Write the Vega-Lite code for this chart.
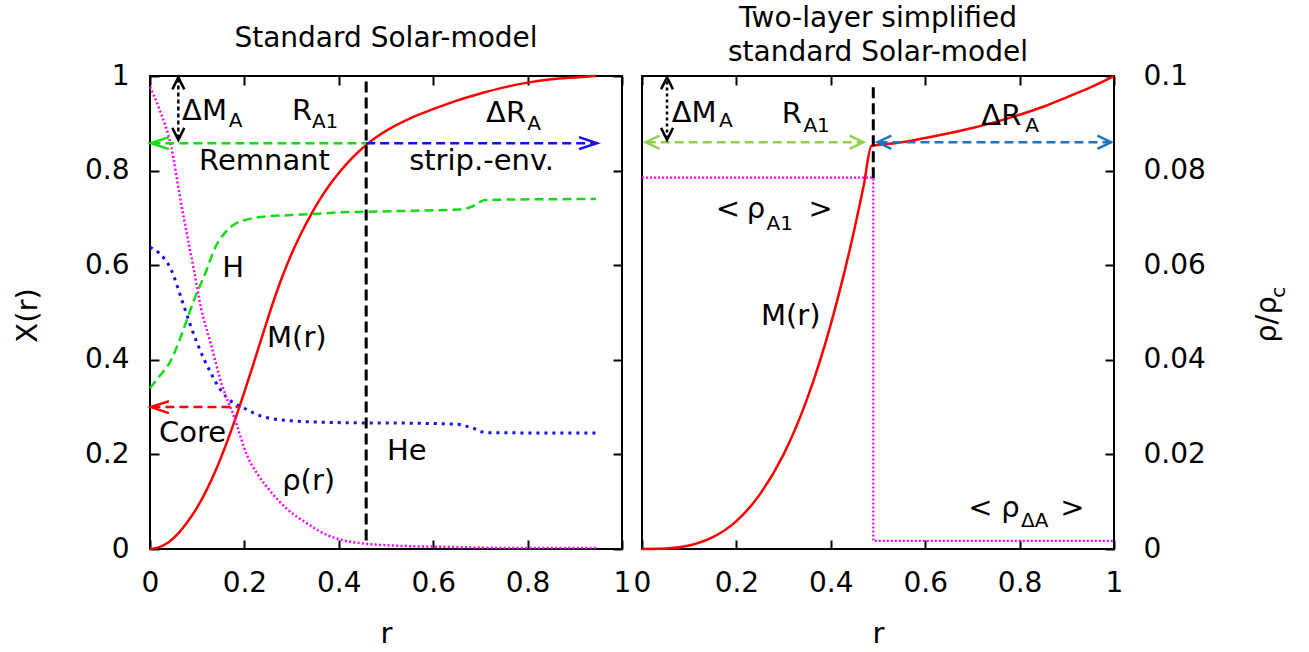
{
  "$schema": "https://vega.github.io/schema/vega-lite/v6.json",
  "padding": {"left": 12, "top": 4, "right": 5, "bottom": 5},
  "background": "white",
  "spacing": 20,
  "bounds": "flush",
  "datasets": {
    "mL": [
      {"r": 0, "v": 0}, {"r": 0.02, "v": 0.004}, {"r": 0.04, "v": 0.015}, {"r": 0.06, "v": 0.033},
      {"r": 0.08, "v": 0.058}, {"r": 0.1, "v": 0.088}, {"r": 0.12, "v": 0.125}, {"r": 0.14, "v": 0.168},
      {"r": 0.16, "v": 0.218}, {"r": 0.18, "v": 0.273}, {"r": 0.2, "v": 0.332}, {"r": 0.22, "v": 0.394},
      {"r": 0.24, "v": 0.457}, {"r": 0.26, "v": 0.519}, {"r": 0.28, "v": 0.575}, {"r": 0.3, "v": 0.624},
      {"r": 0.32, "v": 0.667}, {"r": 0.34, "v": 0.705}, {"r": 0.36, "v": 0.739}, {"r": 0.38, "v": 0.769},
      {"r": 0.4, "v": 0.795}, {"r": 0.42, "v": 0.818}, {"r": 0.44, "v": 0.838}, {"r": 0.46, "v": 0.856},
      {"r": 0.48, "v": 0.871}, {"r": 0.5, "v": 0.884}, {"r": 0.55, "v": 0.91}, {"r": 0.6, "v": 0.93},
      {"r": 0.65, "v": 0.948}, {"r": 0.7, "v": 0.963}, {"r": 0.75, "v": 0.976}, {"r": 0.8, "v": 0.986},
      {"r": 0.85, "v": 0.993}, {"r": 0.9, "v": 0.997}, {"r": 0.945, "v": 1.0}
    ],
    "hL": [
      {"r": 0, "v": 0.34}, {"r": 0.02, "v": 0.365}, {"r": 0.045, "v": 0.4}, {"r": 0.06, "v": 0.435},
      {"r": 0.078, "v": 0.484}, {"r": 0.093, "v": 0.526}, {"r": 0.114, "v": 0.575}, {"r": 0.142, "v": 0.645},
      {"r": 0.16, "v": 0.67}, {"r": 0.178, "v": 0.686}, {"r": 0.2, "v": 0.695}, {"r": 0.235, "v": 0.702},
      {"r": 0.3, "v": 0.706}, {"r": 0.341, "v": 0.708}, {"r": 0.411, "v": 0.712}, {"r": 0.458, "v": 0.713},
      {"r": 0.55, "v": 0.715}, {"r": 0.655, "v": 0.718}, {"r": 0.68, "v": 0.723}, {"r": 0.711, "v": 0.738},
      {"r": 0.945, "v": 0.74}
    ],
    "heL": [
      {"r": 0, "v": 0.638}, {"r": 0.02, "v": 0.625}, {"r": 0.045, "v": 0.59}, {"r": 0.068, "v": 0.525},
      {"r": 0.085, "v": 0.475}, {"r": 0.1, "v": 0.435}, {"r": 0.115, "v": 0.4}, {"r": 0.129, "v": 0.372},
      {"r": 0.145, "v": 0.343}, {"r": 0.163, "v": 0.32}, {"r": 0.18, "v": 0.307}, {"r": 0.199, "v": 0.298},
      {"r": 0.235, "v": 0.281}, {"r": 0.299, "v": 0.271}, {"r": 0.411, "v": 0.267}, {"r": 0.55, "v": 0.266},
      {"r": 0.648, "v": 0.264}, {"r": 0.683, "v": 0.256}, {"r": 0.711, "v": 0.246}, {"r": 0.945, "v": 0.245}
    ],
    "rhoL": [
      {"r": 0, "v": 0.977}, {"r": 0.02, "v": 0.93}, {"r": 0.045, "v": 0.85}, {"r": 0.066, "v": 0.73},
      {"r": 0.093, "v": 0.59}, {"r": 0.108, "v": 0.51}, {"r": 0.128, "v": 0.437}, {"r": 0.153, "v": 0.345},
      {"r": 0.178, "v": 0.28}, {"r": 0.206, "v": 0.197}, {"r": 0.23, "v": 0.155}, {"r": 0.256, "v": 0.121},
      {"r": 0.29, "v": 0.085}, {"r": 0.333, "v": 0.054}, {"r": 0.37, "v": 0.032}, {"r": 0.411, "v": 0.018},
      {"r": 0.458, "v": 0.011}, {"r": 0.52, "v": 0.007}, {"r": 0.6, "v": 0.005}, {"r": 0.7, "v": 0.003},
      {"r": 0.8, "v": 0.002}, {"r": 0.945, "v": 0.002}
    ],
    "mR": [
      {"r": 0, "v": 0}, {"r": 0.05, "v": 0.0009}, {"r": 0.1, "v": 0.0074}, {"r": 0.15, "v": 0.025},
      {"r": 0.2, "v": 0.059}, {"r": 0.25, "v": 0.116}, {"r": 0.3, "v": 0.2}, {"r": 0.35, "v": 0.318},
      {"r": 0.4, "v": 0.475}, {"r": 0.425, "v": 0.57}, {"r": 0.45, "v": 0.676}, {"r": 0.47, "v": 0.77},
      {"r": 0.486, "v": 0.852}, {"r": 0.5, "v": 0.854}, {"r": 0.55, "v": 0.86}, {"r": 0.6, "v": 0.869},
      {"r": 0.65, "v": 0.879}, {"r": 0.7, "v": 0.89}, {"r": 0.75, "v": 0.903}, {"r": 0.8, "v": 0.918},
      {"r": 0.85, "v": 0.935}, {"r": 0.9, "v": 0.955}, {"r": 0.95, "v": 0.976}, {"r": 1.0, "v": 1.0}
    ],
    "rhoR": [
      {"r": 0, "p": 0.0785}, {"r": 0.49, "p": 0.0017}, {"r": 1.0, "p": 0.0017}
    ]
  },
  "hconcat": [
    {
      "width": 472,
      "height": 473,
      "title": {"text": "Standard Solar-model", "offset": -19, "baseline": "bottom", "anchor": "middle", "frame": "group"},
      "layer": [
        {
          "data": {"name": "mL"},
          "mark": {"type": "line", "color": "#ff0000", "strokeWidth": 2.5, "interpolate": "monotone"},
          "encoding": {
            "x": {"field": "r", "type": "quantitative", "scale": {"domain": [0, 1], "nice": false, "zero": false},
                  "axis": {"orient": "bottom", "title": "r", "values": [0, 0.2, 0.4, 0.6, 0.8, 1], "format": "~g", "labelPadding": 29,
                           "titleX": 236, "titleY": 93, "titleBaseline": "alphabetic", "titleAlign": "center"}},
            "y": {"field": "v", "type": "quantitative", "scale": {"domain": [0, 1], "nice": false, "zero": false},
                  "axis": {"orient": "left", "title": "X(r)", "values": [0, 0.2, 0.4, 0.6, 0.8, 1], "format": "~g", "labelPadding": 30,
                           "titleX": -114, "titleY": 239, "titleBaseline": "alphabetic", "titleAlign": "center", "titleAngle": 270}}
          }
        },
        {
          "data": {"name": "hL"},
          "mark": {"type": "line", "color": "#11dd11", "strokeWidth": 2.5, "strokeDash": [9, 5], "interpolate": "monotone"},
          "encoding": {
            "x": {"field": "r", "type": "quantitative", "scale": {"domain": [0, 1], "nice": false, "zero": false},
                  "axis": {"orient": "top", "labels": false, "title": null, "values": [0, 0.2, 0.4, 0.6, 0.8, 1]}},
            "y": {"field": "v", "type": "quantitative", "scale": {"domain": [0, 1], "nice": false, "zero": false},
                  "axis": {"orient": "right", "labels": false, "title": null, "values": [0, 0.2, 0.4, 0.6, 0.8, 1]}}
          }
        },
        {
          "data": {"name": "heL"},
          "mark": {"type": "line", "color": "#1010f0", "strokeWidth": 3, "strokeDash": [3, 5], "interpolate": "monotone"},
          "encoding": {
            "x": {"field": "r", "type": "quantitative", "scale": {"domain": [0, 1], "nice": false, "zero": false}, "axis": null},
            "y": {"field": "v", "type": "quantitative", "scale": {"domain": [0, 1], "nice": false, "zero": false}, "axis": null}
          }
        },
        {
          "data": {"name": "rhoL"},
          "mark": {"type": "line", "color": "#ff00ff", "strokeWidth": 2.5, "strokeDash": [2, 2.3], "interpolate": "monotone"},
          "encoding": {
            "x": {"field": "r", "type": "quantitative", "scale": {"domain": [0, 1], "nice": false, "zero": false}, "axis": null},
            "y": {"field": "v", "type": "quantitative", "scale": {"domain": [0, 1], "nice": false, "zero": false}, "axis": null}
          }
        },
        {
          "data": {"values": [{"r1": 0.003, "r2": 0.458, "v": 0.858}]},
          "mark": {"type": "rule", "color": "#11dd11", "strokeWidth": 2.5, "strokeDash": [9, 5]},
          "encoding": {
            "x": {"field": "r1", "type": "quantitative", "scale": {"domain": [0, 1], "nice": false, "zero": false}, "axis": null},
            "x2": {"field": "r2"},
            "y": {"field": "v", "type": "quantitative", "scale": {"domain": [0, 1], "nice": false, "zero": false}, "axis": null}
          }
        },
        {
          "data": {"values": [{"r1": 0.458, "r2": 0.945, "v": 0.858}]},
          "mark": {"type": "rule", "color": "#1010f0", "strokeWidth": 2.5, "strokeDash": [9, 5]},
          "encoding": {
            "x": {"field": "r1", "type": "quantitative", "scale": {"domain": [0, 1], "nice": false, "zero": false}, "axis": null},
            "x2": {"field": "r2"},
            "y": {"field": "v", "type": "quantitative", "scale": {"domain": [0, 1], "nice": false, "zero": false}, "axis": null}
          }
        },
        {
          "data": {"values": [{"r1": 0.003, "r2": 0.189, "v": 0.3}]},
          "mark": {"type": "rule", "color": "#ff0000", "strokeWidth": 2.5, "strokeDash": [9, 5]},
          "encoding": {
            "x": {"field": "r1", "type": "quantitative", "scale": {"domain": [0, 1], "nice": false, "zero": false}, "axis": null},
            "x2": {"field": "r2"},
            "y": {"field": "v", "type": "quantitative", "scale": {"domain": [0, 1], "nice": false, "zero": false}, "axis": null}
          }
        },
        {
          "data": {"values": [{"r": 0.06, "v1": 0.868, "v2": 0.994}]},
          "mark": {"type": "rule", "color": "#000000", "strokeWidth": 2.5, "strokeDash": [4, 3]},
          "encoding": {
            "x": {"field": "r", "type": "quantitative", "scale": {"domain": [0, 1], "nice": false, "zero": false}, "axis": null},
            "y": {"field": "v1", "type": "quantitative", "scale": {"domain": [0, 1], "nice": false, "zero": false}, "axis": null},
            "y2": {"field": "v2"}
          }
        },
        {
          "data": {"values": [{"r": 0.458, "v1": 0.018, "v2": 0.99}]},
          "mark": {"type": "rule", "color": "#000000", "strokeWidth": 3, "strokeDash": [11, 5]},
          "encoding": {
            "x": {"field": "r", "type": "quantitative", "scale": {"domain": [0, 1], "nice": false, "zero": false}, "axis": null},
            "y": {"field": "v1", "type": "quantitative", "scale": {"domain": [0, 1], "nice": false, "zero": false}, "axis": null},
            "y2": {"field": "v2"}
          }
        },
        {
          "data": {"values": [{"r": 0.002, "v": 0.858}]},
          "mark": {"type": "point", "shape": "M3,-1L0,0L3,1", "size": 144, "filled": false, "stroke": "#11dd11", "strokeWidth": 2.5, "opacity": 1},
          "encoding": {
            "x": {"field": "r", "type": "quantitative", "scale": {"domain": [0, 1], "nice": false, "zero": false}, "axis": null},
            "y": {"field": "v", "type": "quantitative", "scale": {"domain": [0, 1], "nice": false, "zero": false}, "axis": null}
          }
        },
        {
          "data": {"values": [{"r": 0.002, "v": 0.3}]},
          "mark": {"type": "point", "shape": "M3,-1L0,0L3,1", "size": 144, "filled": false, "stroke": "#ff0000", "strokeWidth": 2.5, "opacity": 1},
          "encoding": {
            "x": {"field": "r", "type": "quantitative", "scale": {"domain": [0, 1], "nice": false, "zero": false}, "axis": null},
            "y": {"field": "v", "type": "quantitative", "scale": {"domain": [0, 1], "nice": false, "zero": false}, "axis": null}
          }
        },
        {
          "data": {"values": [{"r": 0.947, "v": 0.858}]},
          "mark": {"type": "point", "shape": "M-3,-1L0,0L-3,1", "size": 144, "filled": false, "stroke": "#1010f0", "strokeWidth": 2.5, "opacity": 1},
          "encoding": {
            "x": {"field": "r", "type": "quantitative", "scale": {"domain": [0, 1], "nice": false, "zero": false}, "axis": null},
            "y": {"field": "v", "type": "quantitative", "scale": {"domain": [0, 1], "nice": false, "zero": false}, "axis": null}
          }
        },
        {
          "data": {"values": [{"r": 0.06, "v": 0.997}]},
          "mark": {"type": "point", "shape": "M-1,2L0,0L1,2", "size": 144, "filled": false, "stroke": "#000000", "strokeWidth": 2.5, "opacity": 1},
          "encoding": {
            "x": {"field": "r", "type": "quantitative", "scale": {"domain": [0, 1], "nice": false, "zero": false}, "axis": null},
            "y": {"field": "v", "type": "quantitative", "scale": {"domain": [0, 1], "nice": false, "zero": false}, "axis": null}
          }
        },
        {
          "data": {"values": [{"r": 0.06, "v": 0.865}]},
          "mark": {"type": "point", "shape": "M-1,-2L0,0L1,-2", "size": 144, "filled": false, "stroke": "#000000", "strokeWidth": 2.5, "opacity": 1},
          "encoding": {
            "x": {"field": "r", "type": "quantitative", "scale": {"domain": [0, 1], "nice": false, "zero": false}, "axis": null},
            "y": {"field": "v", "type": "quantitative", "scale": {"domain": [0, 1], "nice": false, "zero": false}, "axis": null}
          }
        },
        {
          "data": {"values": [
            {"t": "ΔM", "r": 0.068, "v": 0.907}, {"t": "R", "r": 0.301, "v": 0.907}, {"t": "ΔR", "r": 0.712, "v": 0.903},
            {"t": "Remnant", "r": 0.104, "v": 0.801}, {"t": "strip.-env.", "r": 0.549, "v": 0.801},
            {"t": "H", "r": 0.153, "v": 0.575}, {"t": "M(r)", "r": 0.248, "v": 0.427}, {"t": "Core", "r": 0.019, "v": 0.226},
            {"t": "He", "r": 0.502, "v": 0.188}, {"t": "ρ(r)", "r": 0.28, "v": 0.125}
          ]},
          "mark": {"type": "text", "align": "left", "baseline": "alphabetic", "fontSize": 29, "font": "DejaVu Sans", "color": "#000000"},
          "encoding": {
            "x": {"field": "r", "type": "quantitative", "scale": {"domain": [0, 1], "nice": false, "zero": false}, "axis": null},
            "y": {"field": "v", "type": "quantitative", "scale": {"domain": [0, 1], "nice": false, "zero": false}, "axis": null},
            "text": {"field": "t"}
          }
        },
        {
          "data": {"values": [
            {"t": "A", "r": 0.167, "v": 0.892}, {"t": "A1", "r": 0.343, "v": 0.89}, {"t": "A", "r": 0.799, "v": 0.886}
          ]},
          "mark": {"type": "text", "align": "left", "baseline": "alphabetic", "fontSize": 20, "font": "DejaVu Sans", "color": "#000000"},
          "encoding": {
            "x": {"field": "r", "type": "quantitative", "scale": {"domain": [0, 1], "nice": false, "zero": false}, "axis": null},
            "y": {"field": "v", "type": "quantitative", "scale": {"domain": [0, 1], "nice": false, "zero": false}, "axis": null},
            "text": {"field": "t"}
          }
        }
      ]
    },
    {
      "width": 472,
      "height": 473,
      "title": {"text": ["Two-layer simplified", "standard Solar-model"], "offset": -33, "baseline": "bottom", "lineHeight": 34, "anchor": "middle", "frame": "group"},
      "resolve": {"scale": {"y": "independent"}},
      "layer": [
        {
          "layer": [
            {
              "data": {"name": "mR"},
              "mark": {"type": "line", "color": "#ff0000", "strokeWidth": 2.5, "interpolate": "monotone"},
              "encoding": {
                "x": {"field": "r", "type": "quantitative", "scale": {"domain": [0, 1], "nice": false, "zero": false},
                      "axis": {"orient": "bottom", "title": "r", "values": [0, 0.2, 0.4, 0.6, 0.8, 1], "format": "~g", "labelPadding": 29,
                               "titleX": 236, "titleY": 93, "titleBaseline": "alphabetic", "titleAlign": "center"}},
                "y": {"field": "v", "type": "quantitative", "scale": {"domain": [0, 1], "nice": false, "zero": false},
                      "axis": {"orient": "left", "labels": false, "title": null, "values": [0, 0.2, 0.4, 0.6, 0.8, 1]}}
              }
            },
            {
              "data": {"values": [{"r": 0.49, "v1": 0.784, "v2": 0.987}]},
              "mark": {"type": "rule", "color": "#000000", "strokeWidth": 3, "strokeDash": [11, 5]},
              "encoding": {
                "x": {"field": "r", "type": "quantitative", "scale": {"domain": [0, 1], "nice": false, "zero": false},
                      "axis": {"orient": "top", "labels": false, "title": null, "values": [0, 0.2, 0.4, 0.6, 0.8, 1]}},
                "y": {"field": "v1", "type": "quantitative", "scale": {"domain": [0, 1], "nice": false, "zero": false}, "axis": null},
                "y2": {"field": "v2"}
              }
            },
            {
              "data": {"values": [{"r1": 0.01, "r2": 0.467, "v": 0.86}]},
              "mark": {"type": "rule", "color": "#92d050", "strokeWidth": 2.5, "strokeDash": [9, 5]},
              "encoding": {
                "x": {"field": "r1", "type": "quantitative", "scale": {"domain": [0, 1], "nice": false, "zero": false}, "axis": null},
                "x2": {"field": "r2"},
                "y": {"field": "v", "type": "quantitative", "scale": {"domain": [0, 1], "nice": false, "zero": false}, "axis": null}
              }
            },
            {
              "data": {"values": [{"r1": 0.501, "r2": 0.992, "v": 0.86}]},
              "mark": {"type": "rule", "color": "#1f74bf", "strokeWidth": 2.5, "strokeDash": [9, 5]},
              "encoding": {
                "x": {"field": "r1", "type": "quantitative", "scale": {"domain": [0, 1], "nice": false, "zero": false}, "axis": null},
                "x2": {"field": "r2"},
                "y": {"field": "v", "type": "quantitative", "scale": {"domain": [0, 1], "nice": false, "zero": false}, "axis": null}
              }
            },
            {
              "data": {"values": [{"r": 0.053, "v1": 0.868, "v2": 0.994}]},
              "mark": {"type": "rule", "color": "#000000", "strokeWidth": 2.5, "strokeDash": [3, 3]},
              "encoding": {
                "x": {"field": "r", "type": "quantitative", "scale": {"domain": [0, 1], "nice": false, "zero": false}, "axis": null},
                "y": {"field": "v1", "type": "quantitative", "scale": {"domain": [0, 1], "nice": false, "zero": false}, "axis": null},
                "y2": {"field": "v2"}
              }
            },
            {
              "data": {"values": [{"r": 0.008, "v": 0.86}]},
              "mark": {"type": "point", "shape": "M2.3,-1.1L0,0L2.3,1.1", "size": 144, "filled": false, "stroke": "#92d050", "strokeWidth": 2.5, "opacity": 1},
              "encoding": {
                "x": {"field": "r", "type": "quantitative", "scale": {"domain": [0, 1], "nice": false, "zero": false}, "axis": null},
                "y": {"field": "v", "type": "quantitative", "scale": {"domain": [0, 1], "nice": false, "zero": false}, "axis": null}
              }
            },
            {
              "data": {"values": [{"r": 0.469, "v": 0.86}]},
              "mark": {"type": "point", "shape": "M-2.3,-1.1L0,0L-2.3,1.1", "size": 144, "filled": false, "stroke": "#92d050", "strokeWidth": 2.5, "opacity": 1},
              "encoding": {
                "x": {"field": "r", "type": "quantitative", "scale": {"domain": [0, 1], "nice": false, "zero": false}, "axis": null},
                "y": {"field": "v", "type": "quantitative", "scale": {"domain": [0, 1], "nice": false, "zero": false}, "axis": null}
              }
            },
            {
              "data": {"values": [{"r": 0.499, "v": 0.86}]},
              "mark": {"type": "point", "shape": "M2.3,-1.1L0,0L2.3,1.1", "size": 144, "filled": false, "stroke": "#1f74bf", "strokeWidth": 2.5, "opacity": 1},
              "encoding": {
                "x": {"field": "r", "type": "quantitative", "scale": {"domain": [0, 1], "nice": false, "zero": false}, "axis": null},
                "y": {"field": "v", "type": "quantitative", "scale": {"domain": [0, 1], "nice": false, "zero": false}, "axis": null}
              }
            },
            {
              "data": {"values": [{"r": 0.994, "v": 0.86}]},
              "mark": {"type": "point", "shape": "M-2.3,-1.1L0,0L-2.3,1.1", "size": 144, "filled": false, "stroke": "#1f74bf", "strokeWidth": 2.5, "opacity": 1},
              "encoding": {
                "x": {"field": "r", "type": "quantitative", "scale": {"domain": [0, 1], "nice": false, "zero": false}, "axis": null},
                "y": {"field": "v", "type": "quantitative", "scale": {"domain": [0, 1], "nice": false, "zero": false}, "axis": null}
              }
            },
            {
              "data": {"values": [{"r": 0.053, "v": 0.997}]},
              "mark": {"type": "point", "shape": "M-1,2L0,0L1,2", "size": 144, "filled": false, "stroke": "#000000", "strokeWidth": 2.5, "opacity": 1},
              "encoding": {
                "x": {"field": "r", "type": "quantitative", "scale": {"domain": [0, 1], "nice": false, "zero": false}, "axis": null},
                "y": {"field": "v", "type": "quantitative", "scale": {"domain": [0, 1], "nice": false, "zero": false}, "axis": null}
              }
            },
            {
              "data": {"values": [{"r": 0.053, "v": 0.865}]},
              "mark": {"type": "point", "shape": "M-1,-2L0,0L1,-2", "size": 144, "filled": false, "stroke": "#000000", "strokeWidth": 2.5, "opacity": 1},
              "encoding": {
                "x": {"field": "r", "type": "quantitative", "scale": {"domain": [0, 1], "nice": false, "zero": false}, "axis": null},
                "y": {"field": "v", "type": "quantitative", "scale": {"domain": [0, 1], "nice": false, "zero": false}, "axis": null}
              }
            },
            {
              "data": {"values": [
                {"t": "ΔM", "r": 0.063, "v": 0.903}, {"t": "R", "r": 0.296, "v": 0.9}, {"t": "ΔR", "r": 0.719, "v": 0.896},
                {"t": "<", "r": 0.156, "v": 0.7}, {"t": "ρ", "r": 0.222, "v": 0.7}, {"t": ">", "r": 0.353, "v": 0.7},
                {"t": "M(r)", "r": 0.252, "v": 0.474},
                {"t": "<", "r": 0.691, "v": 0.068}, {"t": "ρ", "r": 0.761, "v": 0.068}, {"t": ">", "r": 0.886, "v": 0.068}
              ]},
              "mark": {"type": "text", "align": "left", "baseline": "alphabetic", "fontSize": 29, "font": "DejaVu Sans", "color": "#000000"},
              "encoding": {
                "x": {"field": "r", "type": "quantitative", "scale": {"domain": [0, 1], "nice": false, "zero": false}, "axis": null},
                "y": {"field": "v", "type": "quantitative", "scale": {"domain": [0, 1], "nice": false, "zero": false}, "axis": null},
                "text": {"field": "t"}
              }
            },
            {
              "data": {"values": [
                {"t": "A", "r": 0.163, "v": 0.892}, {"t": "A1", "r": 0.342, "v": 0.882}, {"t": "A", "r": 0.812, "v": 0.882},
                {"t": "A1", "r": 0.264, "v": 0.674}, {"t": "ΔA", "r": 0.803, "v": 0.047}
              ]},
              "mark": {"type": "text", "align": "left", "baseline": "alphabetic", "fontSize": 20, "font": "DejaVu Sans", "color": "#000000"},
              "encoding": {
                "x": {"field": "r", "type": "quantitative", "scale": {"domain": [0, 1], "nice": false, "zero": false}, "axis": null},
                "y": {"field": "v", "type": "quantitative", "scale": {"domain": [0, 1], "nice": false, "zero": false}, "axis": null},
                "text": {"field": "t"}
              }
            },
            {
              "data": {"values": [{"t": "c", "r": 1.362, "v": 0.531}]},
              "mark": {"type": "text", "align": "left", "baseline": "alphabetic", "fontSize": 20, "angle": 270, "font": "DejaVu Sans", "color": "#000000"},
              "encoding": {
                "x": {"field": "r", "type": "quantitative", "scale": {"domain": [0, 1], "nice": false, "zero": false}, "axis": null},
                "y": {"field": "v", "type": "quantitative", "scale": {"domain": [0, 1], "nice": false, "zero": false}, "axis": null},
                "text": {"field": "t"}
              }
            }
          ]
        },
        {
          "data": {"name": "rhoR"},
          "mark": {"type": "line", "color": "#ff00ff", "strokeWidth": 2.2, "strokeDash": [2, 2], "interpolate": "step-after"},
          "encoding": {
            "x": {"field": "r", "type": "quantitative", "scale": {"domain": [0, 1], "nice": false, "zero": false}, "axis": null},
            "y": {"field": "p", "type": "quantitative", "scale": {"domain": [0, 0.1], "nice": false, "zero": false},
                  "axis": {"orient": "right", "title": "ρ/ρ", "values": [0, 0.02, 0.04, 0.06, 0.08, 0.1], "format": ".2~f", "labelPadding": 38,
                           "titleX": 161, "titleY": 243, "titleBaseline": "alphabetic", "titleAlign": "center", "titleAngle": 270}}
          }
        }
      ]
    }
  ],
  "config": {
    "font": "DejaVu Sans",
    "view": {"stroke": "#000000", "strokeWidth": 2},
    "axis": {"grid": false, "domain": false, "tickColor": "#000000", "tickWidth": 2, "tickSize": -9,
             "labelFont": "DejaVu Sans", "labelFontSize": 28, "labelColor": "#000000", "labelFlush": false, "labelOverlap": false,
             "titleFont": "DejaVu Sans", "titleFontSize": 29, "titleFontWeight": "normal", "titleColor": "#000000"},
    "title": {"font": "DejaVu Sans", "fontSize": 28, "fontWeight": "normal", "color": "#000000"},
    "text": {"font": "DejaVu Sans", "color": "#000000"}
  }
}
